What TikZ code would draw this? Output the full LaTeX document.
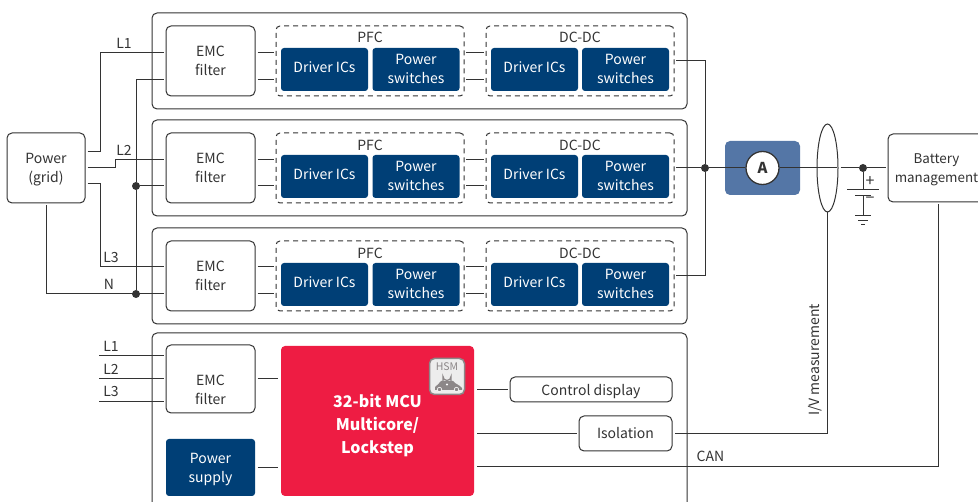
\documentclass[tikz,border=0pt]{standalone}
\usepackage{fontspec}
\setmainfont{Noto Sans CJK SC}
\usetikzlibrary{shapes.geometric}
\definecolor{ink}{HTML}{333333}
\definecolor{navy}{HTML}{003F76}
\definecolor{mcured}{HTML}{EE1C43}
\definecolor{meterblue}{HTML}{5476A6}
\definecolor{hsmgrey}{HTML}{8C8788}
\tikzstyle{wire}=[draw=ink, line width=1pt]
\tikzstyle{dot}=[circle, fill=ink, inner sep=0pt, minimum size=8pt]
\tikzstyle{unitbox}=[draw=ink, line width=1pt, rounded corners=5pt]
\tikzstyle{plainbox}=[draw=ink, fill=white, line width=1pt, rounded corners=5pt, align=center, outer sep=2.5pt]
\tikzstyle{filterbox}=[plainbox, minimum width=89pt, minimum height=70pt]
\tikzstyle{stagebox}=[draw=ink, line width=1pt, dashed, dash pattern=on 5pt off 4pt, rounded corners=4pt, minimum width=188pt, minimum height=70pt, outer sep=2pt]
\tikzstyle{chip}=[fill=navy, text=white, rounded corners=3pt, align=center, minimum width=87pt, minimum height=43pt, outer sep=2.5pt, text depth=2pt]
\tikzstyle{driver}=[chip, text depth=5pt]
\newcommand{\unitbox}{\node[unitbox]}
\newcommand{\filterbox}{\node[filterbox]}
\newcommand{\stagebox}{\node[stagebox]}
\newcommand{\chip}{\node[chip]}
\newcommand{\driver}{\node[driver]}
\newcommand{\tag}{\node[text=ink]}

\begin{document}
\begin{tikzpicture}[x=1pt, y=-1pt, font=\fontsize{14}{19}\selectfont, text=ink]
\useasboundingbox (0,0) rectangle (978,502);

% the four units
\unitbox[minimum width=535pt, minimum height=96pt] (unita) at (419.5,61) {};
\unitbox[minimum width=535pt, minimum height=96pt] (unitb) at (419.5,168) {};
\unitbox[minimum width=535pt, minimum height=96pt] (unitc) at (419.5,276) {};
\draw[unitbox] (152,520) -- (152,333) -- (687,333) -- (687,520);

\node[plainbox, minimum width=78pt, minimum height=70pt, text depth=0pt] (grid) at (46,168) {Power\\(grid)};

\filterbox (filta) at (210.5,61)  {EMC\\filter};
\filterbox (filtb) at (210.5,168) {EMC\\filter};
\filterbox (filtc) at (210.5,276) {EMC\\filter};
\filterbox[minimum height=68pt] (filtd) at (210.5,379) {};
\node[align=center] (filtdtext) at (210.5,390) {EMC\\filter};

\stagebox (pfca) at (370,61)  {};
\stagebox (pfcb) at (370,168) {};
\stagebox (pfcc) at (370,276) {};
\stagebox (dcda) at (580,61)  {};
\stagebox (dcdb) at (580,168) {};
\stagebox (dcdc) at (580,276) {};

\tag at (370,37)  {PFC};
\tag at (370,145) {PFC};
\tag at (370,253) {PFC};
\tag at (580,37)  {DC-DC};
\tag at (580,145) {DC-DC};
\tag at (580,253) {DC-DC};

\driver (drva) at (324.5,69.5)  {Driver ICs};
\chip (swa)  at (416,69.5)    {Power\\switches};
\driver (drvb) at (534.5,69.5)  {Driver ICs};
\chip (swb)  at (625.5,69.5)  {Power\\switches};
\driver (drvc) at (324.5,176.5) {Driver ICs};
\chip (swc)  at (416,176.5)   {Power\\switches};
\driver (drvd) at (534.5,176.5) {Driver ICs};
\chip (swd)  at (625.5,176.5) {Power\\switches};
\driver (drve) at (324.5,284.5) {Driver ICs};
\chip (swf)  at (416,284.5)   {Power\\switches};
\driver (drvg) at (534.5,284.5) {Driver ICs};
\chip (swh)  at (625.5,284.5) {Power\\switches};

% mcu part
\chip[minimum width=89pt, minimum height=57pt, text depth=0pt] (supply) at (210.5,467.5) {Power\\supply};
\node[fill=mcured, rounded corners=4pt, minimum width=193pt, minimum height=150pt, outer sep=3pt] (mcu) at (377.5,421) {};
\node[text=white, align=center, font=\fontsize{16}{23}\selectfont\bfseries] (mcutext) at (377.5,426) {32-bit MCU\\Multicore/\\Lockstep};
\node[plainbox, minimum width=162pt, minimum height=25pt, text depth=0pt] (display) at (591,389.5) {Control display};
\node[plainbox, minimum width=93pt, minimum height=35pt] (isol) at (625.5,433.5) {Isolation};

% HSM badge
\node[draw=hsmgrey, fill=white!93!black, line width=1.5pt, rounded corners=5pt, minimum width=35pt, minimum height=36pt] (hsm) at (447,376.5) {};
\node[text=hsmgrey, font=\fontsize{10.5}{12}\selectfont] (hsmtext) at (447,366.5) {HSM};
\draw[hsmgrey, line width=1.2pt] (443,381) -- (443,376.5) arc[start angle=180, end angle=0, radius=4] -- (451,381);
\fill[hsmgrey] (435,390) -- (435,387) .. controls (437,385) and (439,384) .. (441,381) -- (453,381) .. controls (455,384) and (460,385) .. (462,388) -- (462,390) -- cycle;
\fill[white] (447,384.5) circle (1.2);
\fill[hsmgrey, draw=white, line width=.6pt] (439.5,389.5) circle (2.2) (456.5,389.5) circle (2.2);

% mains
\draw[wire] ([yshift=16pt]grid.east) -- ++(12.5,0) |- ([yshift=8.5pt]filta.west);
\draw[wire] (grid.east) -- ++(28,0) -- ++(0,-8) -- ([yshift=8pt]filtb.west);
\draw[wire] ([yshift=-16pt]grid.east) -- ++(12.5,0) |- ([yshift=9pt]filtc.west);
\draw[wire] (grid.south) |- ([yshift=-18pt]filtc.west);
\node[dot] (joinb) at (136,186) {};
\node[dot] (joinc) at (136,294) {};
\draw[wire] (joinc) -- (joinb) |- ([yshift=-18.5pt]filta.west);
\draw[wire] (joinb) -- ([yshift=-18pt]filtb.west);

\tag at (124,43)  {L1};
\tag at (124,150) {L2};
\tag at (111,257) {L3};
\tag at (109,284) {N};

\coordinate (lia) at (99,356);
\coordinate (lib) at (99,379);
\coordinate (lic) at (99,402);
\draw[wire] (lia) -- ([yshift=23pt]filtd.west);
\draw[wire] (lib) -- (filtd.west);
\draw[wire] (lic) -- ([yshift=-23pt]filtd.west);
\tag at (111,346) {L1};
\tag at (111,369) {L2};
\tag at (111,391) {L3};

% filter to pfc to dc-dc
\draw[wire] ([yshift=8.5pt]filta.east) -- ([yshift=8.5pt]pfca.west);
\draw[wire] ([yshift=-18.5pt]filta.east) -- ([yshift=-18.5pt]pfca.west);
\draw[wire] ([yshift=8pt]filtb.east) -- ([yshift=8pt]pfcb.west);
\draw[wire] ([yshift=-18pt]filtb.east) -- ([yshift=-18pt]pfcb.west);
\draw[wire] ([yshift=9pt]filtc.east) -- ([yshift=9pt]pfcc.west);
\draw[wire] ([yshift=-18pt]filtc.east) -- ([yshift=-18pt]pfcc.west);
\draw[wire] ([yshift=8.5pt]pfca.east) -- ([yshift=8.5pt]dcda.west);
\draw[wire] ([yshift=-18.5pt]pfca.east) -- ([yshift=-18.5pt]dcda.west);
\draw[wire] ([yshift=8pt]pfcb.east) -- ([yshift=8pt]dcdb.west);
\draw[wire] ([yshift=-18pt]pfcb.east) -- ([yshift=-18pt]dcdb.west);
\draw[wire] ([yshift=9pt]pfcc.east) -- ([yshift=9pt]dcdc.west);
\draw[wire] ([yshift=-18pt]pfcc.east) -- ([yshift=-18pt]dcdc.west);

% output side
\node[fill=meterblue, rounded corners=5pt, minimum width=75pt, minimum height=54pt] (meterbox) at (762.5,168) {};
\node[circle, draw=ink, fill=white, line width=1.3pt, minimum size=33pt, inner sep=0pt, font=\fontsize{15}{19}\selectfont\bfseries] (meter) at (762.5,168) {A};
\node[dot] (busdot) at (705,168) {};
\node[dot] (batdot) at (863,168) {};
\node[ellipse, draw=ink, line width=1pt, minimum width=21pt, minimum height=88pt, inner sep=0pt] (sensor) at (827.5,168) {};
\node[plainbox, minimum width=97pt, minimum height=68pt, text depth=0pt, font=\fontsize{13.4}{19}\selectfont] (battery) at (936.5,168) {Battery\\management};
\draw[wire] (dcda.east) -| (busdot);
\draw[wire] (dcdc.east) -| (busdot);
\draw[wire] (dcdb.east) -- (busdot) -- (meter);
\draw[wire] (meter) -- ([xshift=-2pt]sensor.east);
\draw[wire] ([xshift=2pt]sensor.east) -- (batdot);
\draw[wire] (batdot) -- (battery.west);

% battery symbol
\coordinate (plus) at (863,190);
\coordinate (minus) at (863,195.5);
\coordinate (earth) at (863,216);
\coordinate (earthb) at (863,221);
\coordinate (earthc) at (863,225);
\draw[wire] (batdot) -- (plus);
\draw[wire] (minus) -- (earth);
\draw[wire] ([xshift=-16pt]plus) -- ([xshift=16pt]plus);
\draw[wire, line width=1.6pt] ([xshift=-8pt]minus) -- ([xshift=8pt]minus);
\draw[wire] ([xshift=-8pt]earth) -- ([xshift=8pt]earth);
\draw[wire] ([xshift=-5pt]earthb) -- ([xshift=5pt]earthb);
\draw[wire] ([xshift=-2pt]earthc) -- ([xshift=2pt]earthc);
\tag[font=\fontsize{16}{18}\selectfont] at (870,182) {+};
\tag[font=\fontsize{16}{18}\selectfont] at (870,200.5) {−};

% measurement and can
\draw[wire] (sensor.south) |- (isol.east);
\draw[wire] ([xshift=1.5pt]battery.south) |- ([yshift=-46pt]mcu.east);
\node[text=ink, rotate=90] (ivlabel) at (815,360) {I/V measurement};
\tag at (710.5,456) {CAN};

% mcu connectors
\draw[wire] (filtd.east) -- (filtd.east -| mcu.west);
\draw[wire] (supply.east) -- (supply.east -| mcu.west);
\draw[wire] (mcu.east |- display.west) -- (display.west);
\draw[wire] (mcu.east |- isol.west) -- (isol.west);
\end{tikzpicture}
\end{document}
